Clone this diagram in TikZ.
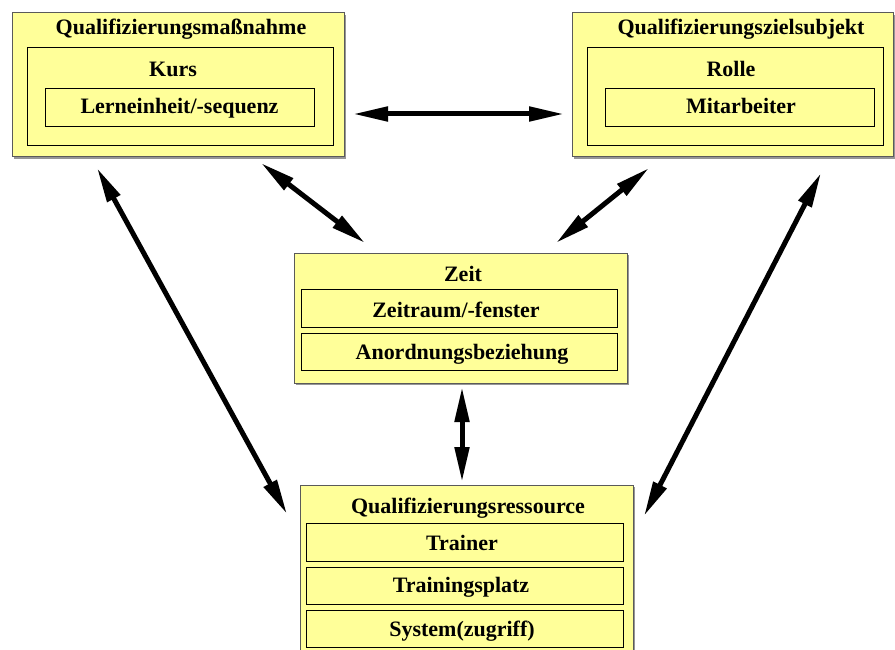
\documentclass[tikz,border=0pt]{standalone}
\usepackage{fontspec}
\setmainfont{Liberation Serif}
\usetikzlibrary{arrows.meta,shadows}
\definecolor{boxfill}{RGB}{255,255,153}
\definecolor{boxedge}{RGB}{90,90,90}
\definecolor{shadowgray}{RGB}{150,150,150}
\tikzset{
  outerbox/.style={draw=boxedge, line width=1pt, fill=boxfill, inner sep=0pt,
    drop shadow={shadow xshift=2pt, shadow yshift=-2pt, fill=shadowgray, opacity=1}},
  innerbox/.style={draw=black, line width=0.9pt, fill=boxfill, inner sep=0pt},
  lbl/.style={anchor=base, inner sep=0pt, font=\bfseries\fontsize{22}{22}\selectfont},
  rel/.style={line width=5pt, {Triangle[length=35pt,width=14pt]}-{Triangle[length=35pt,width=14pt]}}
}
\begin{document}
\begin{tikzpicture}[x=1pt, y=-1pt]
\useasboundingbox (0,0) rectangle (895,650);
\begin{scope}
\clip (0,0) rectangle (895,650);

% Qualifizierungsmassnahme
\node[outerbox, minimum width=332pt, minimum height=144pt] (qm) at (178,85) {};
\node[innerbox, minimum width=306pt, minimum height=98pt] (kurs) at (180,96) {};
\node[innerbox, minimum width=269pt, minimum height=38pt] (lern) at (179.5,107) {};
\node[lbl] (qmT) at (181,35) {Qualifizierungsmaßnahme};
\node[lbl] (kursT) at (173,77) {Kurs};
\node[lbl] (lernT) at (179.5,114) {Lerneinheit/-sequenz};

% Qualifizierungszielsubjekt
\node[outerbox, minimum width=321pt, minimum height=144pt] (qz) at (732.5,85) {};
\node[innerbox, minimum width=296pt, minimum height=98pt] (rolle) at (735,96) {};
\node[innerbox, minimum width=269pt, minimum height=38pt] (mit) at (739.5,107) {};
\node[lbl] (qzT) at (741,35) {Qualifizierungszielsubjekt};
\node[lbl] (rolleT) at (731,77) {Rolle};
\node[lbl] (mitT) at (741,114) {Mitarbeiter};

% Zeit
\node[outerbox, minimum width=333pt, minimum height=130pt] (zeit) at (460.5,318) {};
\node[innerbox, minimum width=316pt, minimum height=38pt] (zr) at (459,308) {};
\node[innerbox, minimum width=316pt, minimum height=37pt] (anord) at (459,351.5) {};
\node[lbl] (zeitT) at (463,281) {Zeit};
\node[lbl] (zrT) at (456,317) {Zeitraum/-fenster};
\node[lbl] (anordT) at (462,359) {Anordnungsbeziehung};

% Qualifizierungsressource
\node[outerbox, minimum width=333pt, minimum height=175pt] (qr) at (466.5,572.5) {};
\node[innerbox, minimum width=317pt, minimum height=38pt] (trainer) at (464.5,542) {};
\node[innerbox, minimum width=317pt, minimum height=37pt] (platz) at (464.5,585.5) {};
\node[innerbox, minimum width=317pt, minimum height=37pt] (sys) at (464.5,628.5) {};
\node[lbl] (qrT) at (468,513) {Qualifizierungsressource};
\node[lbl] (trainerT) at (462,550) {Trainer};
\node[lbl] (platzT) at (461,592) {Trainingsplatz};
\node[lbl] (sysT) at (462,636) {System(zugriff)};
\end{scope}

% connector ends
\coordinate (qmR) at (353,114);
\coordinate (qzL) at (564,114);
\coordinate (qmB) at (97,168);
\coordinate (qrL) at (287,514);
\coordinate (qmZ) at (261,163);
\coordinate (zeitL) at (365,243);
\coordinate (qzZ) at (649,168);
\coordinate (zeitR) at (556,243);
\coordinate (qzB) at (821,173);
\coordinate (qrR) at (644,516);
\coordinate (zeitB) at (462,387);
\coordinate (qrT) at (462,482);

\draw[rel] (qmR) -- (qzL);
\draw[rel] (qmB) -- (qrL);
\draw[rel] (qmZ) -- (zeitL);
\draw[rel] (qzZ) -- (zeitR);
\draw[rel] (qzB) -- (qrR);
\draw[rel] (zeitB) -- (qrT);
\end{tikzpicture}
\end{document}
